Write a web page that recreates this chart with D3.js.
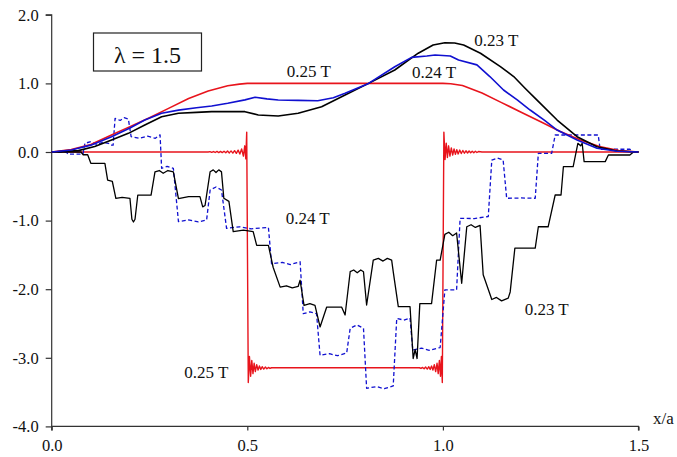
<!DOCTYPE html>
<html>
<head>
<meta charset="utf-8">
<script src="https://cdn.jsdelivr.net/npm/d3@7"></script>
<style>
  html, body { margin: 0; padding: 0; background: #fff; }
  svg { display: block; }
  svg text { font-family: "Liberation Serif", "Times New Roman", serif; }
</style>
</head>
<body>
<svg id="chart" width="677" height="457"></svg>
<script>
// Axis ticks and labels
const xTicks = [0, 0.5, 1.0, 1.5];
const xTickLabels = ["0.0", "0.5", "1.0", "1.5"];
const yTicks = [-4, -3, -2, -1, 0, 1, 2];
const yTickLabels = ["-4.0", "-3.0", "-2.0", "-1.0", "0.0", "1.0", "2.0"];

// Upper smooth profiles [x/a, value]
const upper025 = [[0,0],[0.05,0.035],[0.1,0.11],[0.15,0.24],[0.2,0.37],[0.25,0.5],[0.3,0.64],[0.35,0.78],[0.4,0.89],[0.45,0.965],[0.48,0.99],[0.5,1.0],
  [1.0,1.0],[1.02,0.995],[1.05,0.97],[1.1,0.86],[1.15,0.72],[1.2,0.58],[1.25,0.44],[1.3,0.3],[1.35,0.18],[1.4,0.08],[1.45,0.02],[1.5,0]];
const upper024 = [[0,0],[0.05,0.03],[0.1,0.1],[0.153,0.223],[0.2,0.35],[0.238,0.466],[0.281,0.564],[0.324,0.61],[0.37,0.645],[0.409,0.67],[0.45,0.71],[0.494,0.76],[0.52,0.797],
  [0.55,0.775],[0.579,0.758],[0.63,0.752],[0.68,0.748],[0.72,0.79],[0.75,0.856],[0.81,1.0],[0.877,1.243],[0.92,1.38],[0.959,1.4],[0.98,1.414],[1.019,1.4],[1.04,1.34],
  [1.087,1.27],[1.12,1.1],[1.155,0.904],[1.19,0.76],[1.223,0.612],[1.26,0.46],[1.292,0.32],[1.343,0.175],[1.394,0.054],[1.445,0.01],[1.5,0]];
const upper023 = [[0,0],[0.068,0.02],[0.11,0.08],[0.153,0.175],[0.196,0.272],[0.238,0.394],[0.281,0.515],[0.324,0.564],[0.37,0.578],[0.409,0.588],[0.465,0.588],[0.494,0.588],
  [0.528,0.54],[0.579,0.525],[0.63,0.564],[0.69,0.66],[0.75,0.83],[0.81,1.0],[0.877,1.195],[0.937,1.44],[0.975,1.56],[1.005,1.593],[1.03,1.59],[1.053,1.56],[1.096,1.44],
  [1.147,1.245],[1.181,1.1],[1.21,0.93],[1.24,0.76],[1.292,0.466],[1.343,0.223],[1.394,0.077],[1.445,0.015],[1.5,0]];

// Lower profiles
const lower025 = [[0,0],[0.40,0],[0.4045,0.006],[0.409,-0.006],[0.4135,0.007],[0.418,-0.007],[0.4225,0.008],[0.427,-0.008],[0.4315,0.009],[0.436,-0.009],
  [0.4405,0.011],[0.445,-0.011],[0.4495,0.013],[0.454,-0.013],[0.4585,0.016],[0.463,-0.016],[0.4675,0.02],[0.472,-0.02],[0.4765,0.027],[0.481,-0.03],
  [0.4855,0.045],[0.49,-0.06],[0.4935,0.09],[0.4962,-0.1],[0.4985,0.29],[0.5025,-3.36],[0.5055,-2.98],[0.5085,-3.27],[0.5115,-3.04],[0.5145,-3.23],[0.5175,-3.08],
  [0.5205,-3.2],[0.524,-3.1],[0.5275,-3.18],[0.531,-3.12],[0.5345,-3.17],[0.538,-3.13],[0.542,-3.165],[0.546,-3.135],[0.55,-3.16],[0.554,-3.14],[0.558,-3.155],[0.562,-3.145],
  [0.94,-3.145],[0.944,-3.155],[0.948,-3.14],[0.952,-3.16],[0.956,-3.135],[0.96,-3.165],[0.964,-3.13],[0.9675,-3.17],[0.971,-3.12],[0.9745,-3.18],[0.978,-3.1],
  [0.9815,-3.2],[0.985,-3.08],[0.988,-3.23],[0.991,-3.04],[0.9938,-3.27],[0.9962,-2.98],[0.9985,-3.36],[1.0025,0.29],[1.0055,-0.11],[1.0085,0.13],[1.0115,-0.08],
  [1.0145,0.09],[1.018,-0.06],[1.0215,0.06],[1.025,-0.045],[1.0285,0.045],[1.032,-0.035],[1.0355,0.035],[1.039,-0.028],[1.043,0.028],[1.047,-0.022],[1.051,0.022],
  [1.055,-0.018],[1.059,0.018],[1.063,-0.015],[1.067,0.015],[1.071,-0.012],[1.075,0.012],[1.079,-0.01],[1.083,0.01],[1.087,-0.008],[1.091,0.008],[1.1,0],[1.5,0]];
const lower024 = [[0,0],[0.038,0],[0.041,-0.03],[0.08,-0.03],[0.085,0.127],[0.1,0.15],[0.115,0.11],[0.13,0.14],[0.145,0.127],[0.15,0.1],[0.157,0.1],[0.162,0.49],[0.175,0.46],[0.185,0.5],[0.196,0.48],
  [0.203,0.224],[0.225,0.2],[0.245,0.23],[0.265,0.2],[0.277,0.25],[0.281,-0.238],[0.295,-0.21],[0.311,-0.238],[0.324,-1.015],[0.35,-0.99],[0.375,-1.02],[0.396,-0.99],[0.405,-0.554],[0.42,-0.51],[0.434,-0.554],[0.447,-1.113],[0.48,-1.09],[0.51,-1.12],[0.554,-1.1],
  [0.562,-1.63],[0.59,-1.61],[0.61,-1.64],[0.635,-1.6],[0.643,-2.357],[0.66,-2.33],[0.677,-2.357],[0.686,-2.964],[0.71,-2.94],[0.73,-2.97],[0.754,-2.93],[0.763,-2.57],[0.78,-2.52],[0.797,-2.57],[0.805,-3.445],[0.83,-3.42],[0.85,-3.45],[0.873,-3.41],
  [0.882,-2.425],[0.9,-2.45],[0.916,-2.42],[0.923,-2.886],[0.945,-2.86],[0.965,-2.89],[0.993,-2.85],[1.005,-2.01],[1.035,-2.01],[1.044,-0.967],[1.08,-0.97],[1.116,-0.94],[1.125,-0.117],[1.14,-0.09],[1.154,-0.117],
  [1.163,-0.675],[1.2,-0.67],[1.236,-0.675],[1.244,-0.02],[1.278,-0.02],[1.287,0.248],[1.397,0.248],[1.402,0.04],[1.478,0.04],[1.487,0],[1.5,0]];
const lower023 = [[0,0],[0.075,0],[0.08,-0.04],[0.092,-0.04],[0.1,-0.165],[0.136,-0.165],[0.143,-0.41],[0.155,-0.43],[0.164,-0.675],[0.18,-0.66],[0.2,-0.675],[0.205,-0.98],
  [0.209,-1.02],[0.213,-0.98],[0.22,-0.63],[0.254,-0.63],[0.264,-0.29],[0.275,-0.27],[0.285,-0.31],[0.297,-0.27],[0.311,-0.29],[0.324,-0.68],[0.35,-0.65],[0.379,-0.65],
  [0.386,-0.8],[0.392,-0.78],[0.405,-0.287],[0.413,-0.26],[0.42,-0.3],[0.427,-0.26],[0.434,-0.29],[0.44,-0.675],[0.453,-0.72],[0.464,-1.16],[0.49,-1.14],[0.515,-1.16],[0.524,-1.36],[0.554,-1.36],
  [0.566,-1.68],[0.584,-1.97],[0.6,-1.95],[0.615,-1.98],[0.63,-1.96],[0.635,-1.87],[0.645,-2.235],[0.66,-2.21],[0.673,-2.235],[0.686,-2.55],[0.703,-2.26],[0.741,-2.26],[0.75,-2.376],[0.763,-1.745],
  [0.772,-1.72],[0.781,-1.76],[0.79,-1.72],[0.797,-1.745],[0.805,-2.23],[0.822,-1.575],[0.835,-1.55],[0.847,-1.59],[0.858,-1.55],[0.869,-1.575],[0.873,-1.745],[0.886,-2.255],[0.916,-2.255],[0.924,-3.01],[0.929,-2.88],[0.934,-3.01],[0.941,-2.21],
  [0.971,-2.21],[0.984,-1.575],[0.993,-1.575],[1.005,-1.2],[1.015,-1.17],[1.025,-1.22],[1.035,-1.18],[1.048,-1.914],[1.061,-1.09],[1.072,-1.06],[1.083,-1.1],[1.095,-1.07],[1.103,-1.79],[1.125,-2.15],[1.137,-2.12],[1.15,-2.17],[1.167,-2.13],
  [1.172,-2.04],[1.184,-1.4],[1.236,-1.4],[1.244,-1.09],[1.269,-1.09],[1.287,-0.627],[1.302,-0.627],[1.308,-0.214],[1.333,-0.214],[1.345,0.127],[1.352,0.09],
  [1.356,0.127],[1.361,-0.14],[1.415,-0.14],[1.423,-0.044],[1.478,-0.044],[1.487,0],[1.5,0]];

// Curve labels: text, x/a at left edge, value at baseline
const labelText = ["0.23 T", "0.24 T", "0.25 T", "0.24 T", "0.23 T", "0.25 T"];
const labelX = [1.08, 0.921, 0.601, 0.598, 1.209, 0.339];
const labelY = [1.55, 1.08, 1.10, -1.05, -2.37, -3.29];

const RED = "#e8141c", BLUE = "#1010d0", BLACK = "#000";
const SERIF = '"Liberation Serif", "Times New Roman", serif';

const svg = d3.select("#chart");
const x = d3.scaleLinear().domain([0, 1.5]).range([51.7, 638.5]);
const y = d3.scaleLinear().domain([-4, 2]).range([426.4, 14.8]);
const line = d3.line().x(d => x(d[0])).y(d => y(d[1]));

// Axes
const yAxis = svg.append("g").attr("transform", `translate(${x(0)},0)`)
  .call(d3.axisLeft(y).tickValues(yTicks).tickSize(6).tickPadding(7)
    .tickFormat((d, i) => yTickLabels[i]));
const xAxis = svg.append("g").attr("transform", `translate(0,${y(-4)})`)
  .call(d3.axisBottom(x).tickValues(xTicks).tickSize(4).tickPadding(9)
    .tickFormat((d, i) => xTickLabels[i]));
[yAxis, xAxis].forEach(g => {
  g.attr("font-family", SERIF).attr("font-size", 16.5);
  g.select(".domain").attr("stroke", "#333").attr("stroke-width", 1.2);
  g.selectAll(".tick line").attr("stroke", "#333").attr("stroke-width", 1.2);
  g.selectAll(".tick text").attr("fill", "#111").style("font-family", SERIF).attr("font-size", 16.5);
});
xAxis.select(".domain").attr("d", `M${x(0)},4V0H${x(1.5)}V4`);
yAxis.select(".domain").attr("d", `M-6,${y(2)}H0V${y(-4)}`);

// Curves
const series = [
  { data: lower025, color: RED, w: 1.4 },
  { data: lower024, color: BLUE, w: 1.3, dash: "4,2.5" },
  { data: lower023, color: BLACK, w: 1.3 },
  { data: upper025, color: RED, w: 1.6 },
  { data: upper023, color: BLACK, w: 1.6 },
  { data: upper024, color: BLUE, w: 1.6 }
];
svg.append("g").selectAll("path").data(series).join("path")
  .attr("d", d => line(d.data))
  .attr("fill", "none")
  .attr("stroke", d => d.color)
  .attr("stroke-width", d => d.w)
  .attr("stroke-linejoin", "round")
  .attr("stroke-dasharray", d => d.dash || null);

// Curve labels
svg.append("g").selectAll("text").data(labelText).join("text")
  .attr("x", (d, i) => x(labelX[i]))
  .attr("y", (d, i) => y(labelY[i]))
  .style("font-family", SERIF)
  .attr("font-size", 17)
  .attr("fill", "#111")
  .text(d => d);

// Lambda box
svg.append("rect").attr("x", 93.5).attr("y", 33).attr("width", 108).attr("height", 38)
  .attr("fill", "#fff").attr("stroke", "#222").attr("stroke-width", 1.2);
svg.append("text").attr("x", 147.5).attr("y", 62.5).attr("text-anchor", "middle")
  .style("font-family", SERIF).attr("font-size", 24).attr("fill", "#111").text("λ = 1.5");

// Axis title
svg.append("text").attr("x", 653).attr("y", 424).style("font-family", SERIF)
  .attr("font-size", 17).attr("fill", "#111").text("x/a");
</script>
</body>
</html>
